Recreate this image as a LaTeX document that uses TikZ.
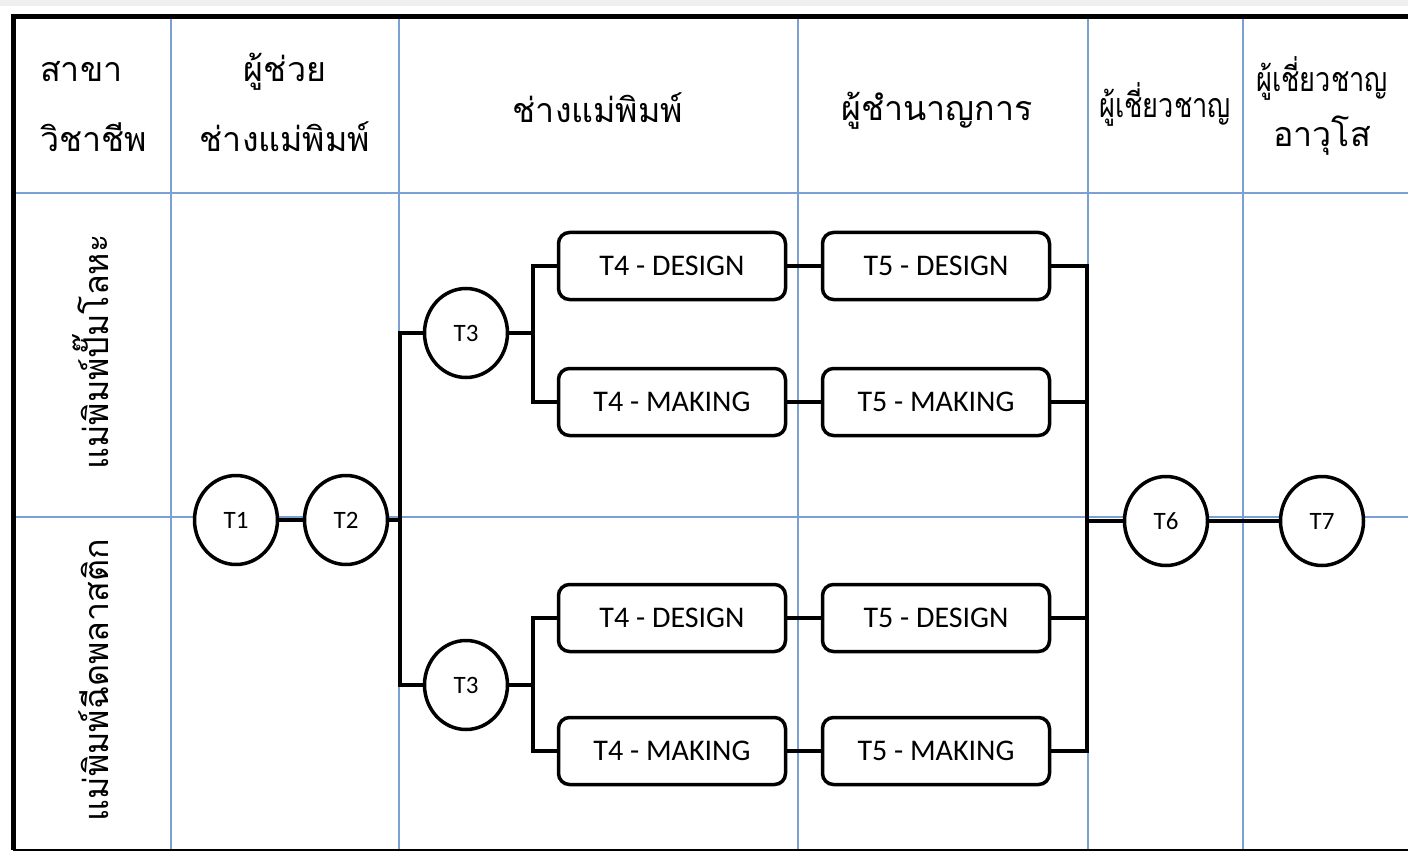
\documentclass[tikz,border=0pt]{standalone}
\usepackage{fontspec}
\setmainfont{Carlito}
\newfontfamily\thai[Script=Thai]{Loma}
\newfontfamily\thainarrow[Script=Thai,FakeStretch=0.8]{Loma}
\usetikzlibrary{shapes.geometric}
\definecolor{gridblue}{RGB}{122,160,212}
\begin{document}
\begin{tikzpicture}[x=1pt,y=-1pt,
  grid/.style={draw=gridblue,line width=1.5pt},
  circ/.style={ellipse,draw,line width=3.5pt,fill=white,minimum width=83pt,minimum height=89pt,inner sep=0pt,font=\fontsize{25}{30}\selectfont},
  task/.style={rectangle,rounded corners=11pt,draw,line width=3.5pt,fill=white,minimum width=227pt,minimum height=67pt,inner sep=0pt,font=\fontsize{30}{36}\selectfont},
  conn/.style={line width=3.5pt,line join=miter},
  head/.style={font=\thai\fontsize{34}{40}\selectfont,anchor=base,inner sep=0pt},
  headn/.style={font=\thainarrow\fontsize{34}{40}\selectfont,anchor=base,inner sep=0pt},
  side/.style={font=\thai\fontsize{34}{40}\selectfont,anchor=base,rotate=90,inner sep=0pt}]
\useasboundingbox (0,0) rectangle (1408,853);
\fill[white] (0,0) rectangle (1408,853);
\fill[black!6] (0,0) rectangle (1408,6);
% grid
\foreach \x in {171,399,798,1088,1243} \draw[grid] (\x,17) -- (\x,850);
\draw[grid] (13,193) -- (1408,193);
\draw[grid] (13,517) -- (1408,517);
% frame
\draw[line width=5pt] (1408,17) -- (13,17) -- (13,850);
\draw[line width=2.5pt] (13,850) -- (1408,850);
% headers
\node[head,anchor=base west] (h1a) at (40,82) {สาขา};
\node[head,anchor=base west] (h1b) at (40,152) {วิชาชีพ};
\node[head] (h2a) at (285,82) {ผู้ช่วย};
\node[head] (h2b) at (285,152) {ช่างแม่พิมพ์};
\node[head] (h3) at (598,123) {ช่างแม่พิมพ์};
\node[head] (h4) at (937,121) {ผู้ชำนาญการ};
\node[headn] (h5) at (1165,118) {ผู้เชี่ยวชาญ};
\node[headn] (h6a) at (1322,92) {ผู้เชี่ยวชาญ};
\node[head] (h6b) at (1322,147) {อาวุโส};
% side labels
\node[side] (s1) at (108,352) {แม่พิมพ์ปั๊มโลหะ};
\node[side] (s2) at (108,680) {แม่พิมพ์ฉีดพลาสติก};
% nodes
\node[circ] (T1) at (236,520) {T1};
\node[circ] (T2) at (346,520) {T2};
\node[circ] (T3a) at (466,333) {T3};
\node[circ] (T3b) at (466,685) {T3};
\node[circ] (T6) at (1166,521) {T6};
\node[circ] (T7) at (1322,521) {T7};
\node[task] (T4a) at (672,266) {T4 - DESIGN};
\node[task] (T4b) at (672,402) {T4 - MAKING};
\node[task] (T4c) at (672,618) {T4 - DESIGN};
\node[task] (T4d) at (672,751) {T4 - MAKING};
\node[task] (T5a) at (936,266) {T5 - DESIGN};
\node[task] (T5b) at (936,402) {T5 - MAKING};
\node[task] (T5c) at (936,618) {T5 - DESIGN};
\node[task] (T5d) at (936,751) {T5 - MAKING};
% bus coordinates
\coordinate (b1) at (400,520);
\coordinate (b2) at (533,333);
\coordinate (b3) at (533,685);
\coordinate (b4) at (1087,521);
% connectors
\draw[conn] (T1) -- (T2);
\draw[conn] (T2.east) -- (b1);
\draw[conn] (T3a.west) -| (b1);
\draw[conn] (T3b.west) -| (b1);
\draw[conn] (T3a.east) -- (b2);
\draw[conn] (T4a.west) -| (b2);
\draw[conn] (T4b.west) -| (b2);
\draw[conn] (T3b.east) -- (b3);
\draw[conn] (T4c.west) -| (b3);
\draw[conn] (T4d.west) -| (b3);
\draw[conn] (T4a) -- (T5a);
\draw[conn] (T4b) -- (T5b);
\draw[conn] (T4c) -- (T5c);
\draw[conn] (T4d) -- (T5d);
\draw[conn] (T5a.east) -| (b4);
\draw[conn] (T5b.east) -| (b4);
\draw[conn] (T5c.east) -| (b4);
\draw[conn] (T5d.east) -| (b4);
\draw[conn] (b4) -- (T6.west);
\draw[conn] (T6) -- (T7);
\end{tikzpicture}
\end{document}
